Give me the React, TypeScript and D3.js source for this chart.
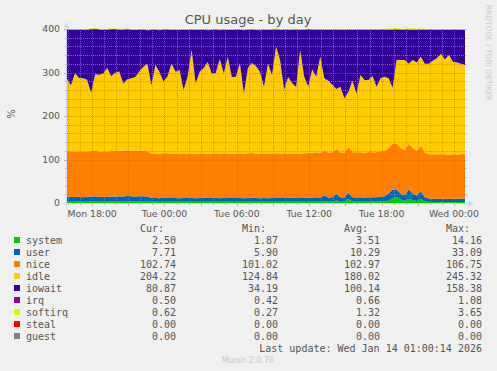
import React from "react";
import * as d3 from "d3";

const W = 497;
const H = 371;

// ---- series (20-minute samples, Mon 15:55 -> Wed 00:55) ----
const system = [
  3.1, 2.9, 3.0, 3.2, 2.8, 3.0, 3.3, 3.4, 3.1, 2.9, 3.0, 3.2, 2.9,
  3.3, 3.1, 3.4, 3.2, 3.0, 3.3, 3.1, 3.2,
  2.9, 2.7, 2.8, 3.0, 2.6, 2.8, 2.9, 2.7, 2.8, 3.1, 2.7, 2.8, 2.6, 2.9, 2.8, 2.7, 3.0, 2.8, 2.9, 2.6,
  2.8, 2.7, 2.9, 2.8, 3.0, 2.7, 2.8, 2.6, 2.9, 2.8, 2.7, 3.0, 2.8, 2.9, 2.7, 2.8, 2.6, 2.9, 2.8, 3.0,
  3.0, 3.1, 2.9, 4.5, 3.0, 3.2, 5.5, 3.1, 2.9, 9.0, 3.2, 3.0, 3.1, 2.9, 3.0, 3.3, 3.0, 3.4,
  3.5, 6.0, 11.0, 14.16, 8.0, 5.0, 9.0, 7.0, 4.5, 9.0, 3.5,
  2.3, 2.1, 2.4, 2.0, 2.2, 1.87, 2.3, 2.1, 2.4, 2.5,
];
const user = [
  11.2, 10.8, 11.0, 11.4, 10.6, 11.3, 11.7, 12.0, 11.5, 10.9, 11.0, 11.6, 11.8,
  12.4, 12.0, 12.6, 12.3, 12.1, 12.5, 12.2, 11.8,
  8.6, 8.9, 8.4, 8.8, 9.1, 8.5, 8.7, 8.3, 8.9, 8.6, 8.8, 8.4, 8.7, 9.0, 8.5, 8.6, 8.8, 8.3, 8.7, 8.9,
  8.5, 8.6, 8.8, 8.4, 8.7, 9.2, 8.6, 8.5, 8.8, 8.4, 8.9, 8.7, 8.6, 8.5, 8.8, 9.0, 8.7, 8.4, 8.9, 9.3,
  9.8, 10.1, 9.6, 12.5, 9.9, 10.2, 15.0, 10.0, 9.7, 16.0, 10.3, 9.9, 10.1, 9.8, 10.4, 10.0, 10.2, 11.5,
  12.0, 16.0, 20.0, 16.0, 14.0, 12.0, 22.0, 15.0, 12.0, 18.0, 10.0,
  7.8, 7.5, 7.9, 7.4, 7.7, 7.3, 7.6, 7.5, 7.8, 7.71,
];
const nice = [
  103.8, 104.2, 104.4, 103.6, 104.1, 103.9, 104.3, 104.6, 104.0, 103.7, 104.3, 104.5, 104.8,
  104.6, 104.9, 105.2, 104.4, 104.7, 104.3, 104.8, 104.1,
  102.3, 102.7, 102.1, 102.6, 102.9, 102.4, 102.2, 102.8, 102.5, 102.0, 102.6, 102.3, 102.7, 102.4, 102.1, 102.5, 102.8, 102.2, 102.6, 102.4,
  102.3, 102.7, 102.5, 102.1, 102.6, 102.9, 102.4, 102.2, 102.7, 102.5, 102.3, 102.6, 102.4, 102.8, 102.2, 102.5, 102.7, 102.3, 102.6, 102.8,
  103.2, 103.5, 103.0, 103.6, 103.3, 103.1, 104.0, 103.4, 103.2, 104.2, 103.0, 103.5, 103.3, 103.1, 103.6, 103.4, 103.2, 103.8,
  104.0, 104.5, 105.5, 106.75, 104.8, 103.9, 105.0, 104.2, 103.6, 104.6, 103.3,
  101.9, 102.3, 101.7, 102.6, 102.1, 101.8, 102.4, 102.0, 101.6, 102.74,
];
const idle = [
  167, 153, 180, 169, 169, 165, 134, 176, 176, 180, 192, 172, 180,
  182, 155, 163, 167, 170, 182, 193, 201,
  157, 203, 188, 165, 176, 207, 188, 192, 146, 176, 238, 161, 188, 196, 211, 184, 184, 218, 184, 222,
  176, 176, 207, 138, 196, 207, 201, 188, 153, 207, 180, 245.32, 215, 146, 176, 161, 153, 238, 176, 153,
  191, 173.3, 220.5, 166.4, 164.8, 155.5, 137.5, 150.5, 124.84, 125.8, 164.5, 135.6, 177.5, 167.2, 166, 175.3, 150.6, 168.3,
  170.5, 160.5, 128.5, 192.25, 202.2, 208.1, 184, 202.8, 202.9, 204.4, 203.2,
  208, 215.1, 221, 231, 218, 229, 212.7, 211.4, 208.2, 204.22,
];
const iowait = [
  113, 127, 100, 111, 111, 115, 146, 104, 104, 100,
  88, 108, 100, 96, 123, 115, 111, 108, 96, 85,
  77, 127, 81, 96, 119, 108, 77, 96, 92, 138,
  108, 46, 123, 96, 88, 73, 100, 100, 66, 100,
  62, 108, 108, 77, 146, 88, 77, 83, 96, 131,
  77, 104, 39, 69, 138, 108, 123, 131, 46, 108,
  131, 91, 108, 62, 111, 117, 126, 136, 131, 157,
  143, 117, 146, 104, 115, 115, 106, 131, 111, 108,
  111, 133, 69, 69, 69, 78, 69, 75, 62, 78,
  78, 71, 65, 55, 68, 58, 73, 75, 78, 80.87,
];
const irq = [
  0.62, 0.68, 0.71, 0.64, 0.59, 0.66, 0.73, 0.69, 0.61, 0.65,
  0.70, 0.67, 0.63, 0.72, 0.68, 0.60, 0.66, 0.74, 0.69, 0.64,
  0.61, 0.67, 0.70, 0.65, 0.58, 0.63, 0.69, 0.72, 0.66, 0.62,
  0.68, 0.75, 0.64, 0.60, 0.67, 0.71, 0.63, 0.66, 0.70, 0.65,
  0.62, 0.68, 0.64, 0.69, 0.73, 0.61, 0.66, 0.70, 0.63, 0.67,
  0.65, 0.71, 0.78, 0.64, 0.60, 0.66, 0.69, 0.62, 0.74, 0.67,
  0.63, 0.68, 0.65, 0.72, 0.70, 0.64, 0.61, 0.76, 0.66, 0.69,
  0.82, 0.65, 0.63, 0.68, 0.66, 0.70, 0.64, 0.67, 0.72, 0.75,
  0.88, 0.96, 1.08, 0.85, 0.78, 1.02, 0.90, 0.80, 0.94, 0.71,
  0.58, 0.55, 0.52, 0.49, 0.54, 0.47, 0.51, 0.45, 0.42, 0.50,
];
const softirq = [
  1.25, 1.31, 1.28, 1.36, 1.22, 1.30, 1.41, 1.27, 1.33, 1.24,
  1.29, 1.35, 1.26, 1.32, 1.38, 1.23, 1.30, 1.27, 1.34, 1.29,
  1.21, 1.28, 1.33, 1.25, 1.31, 1.36, 1.24, 1.30, 1.27, 1.35,
  1.29, 1.44, 1.26, 1.22, 1.31, 1.28, 1.34, 1.25, 1.30, 1.27,
  1.23, 1.32, 1.28, 1.35, 1.26, 1.30, 1.24, 1.33, 1.29, 1.27,
  1.31, 1.25, 1.48, 1.30, 1.22, 1.28, 1.34, 1.26, 1.42, 1.29,
  1.27, 1.33, 1.25, 1.38, 1.30, 1.26, 1.32, 1.55, 1.28, 1.31,
  1.85, 1.27, 1.24, 1.30, 1.28, 1.33, 1.26, 1.35, 1.52, 1.68,
  2.10, 2.95, 3.65, 2.40, 1.90, 3.30, 2.60, 1.95, 2.85, 1.60,
  0.85, 0.72, 0.64, 0.55, 0.61, 0.48, 0.52, 0.39, 0.27, 0.62,
];

// ---- legend ----
const seriesNames = ["system", "user", "nice", "idle", "iowait", "irq", "softirq", "steal", "guest"];
const seriesColors = ["#00CC00", "#0066B3", "#FF8000", "#FFCC00", "#330099", "#990099", "#CCFF00", "#FF0000", "#808080"];
const legendCur = [2.5, 7.71, 102.74, 204.22, 80.87, 0.5, 0.62, 0, 0];
const legendMin = [1.87, 5.9, 101.02, 124.84, 34.19, 0.42, 0.27, 0, 0];
const legendAvg = [3.51, 10.29, 102.97, 180.02, 100.14, 0.66, 1.32, 0, 0];
const legendMax = [14.16, 33.09, 106.75, 245.32, 158.38, 1.08, 3.65, 0, 0];
const legendHeaders = ["Cur:", "Min:", "Avg:", "Max:"];
const yTicks = [0, 100, 200, 300, 400];
const titleText = "CPU usage - by day";
const lastUpdate = "Last update: Wed Jan 14 01:00:14 2026";

const t0 = new Date(2026, 0, 12, 15, 55);
const stepMin = 20;

const PL = 67, PR = 465, PT = 29, PB = 203;

export default function App() {
  const n = system.length;
  const times = system.map((_, i) => new Date(t0.getTime() + i * stepMin * 60000));
  const tEnd = times[n - 1];
  const x = d3.scaleTime().domain([t0, tEnd]).range([PL, PR]);
  const y = d3.scaleLinear().domain([0, 400]).range([PB, PT]);

  const keys = ["system", "user", "nice", "idle", "iowait", "irq", "softirq"];
  const src: Record<string, number[]> = { system, user, nice, idle, iowait, irq, softirq };
  const rows = times.map((t, i) => {
    const r: any = { t };
    keys.forEach((k) => (r[k] = src[k][i]));
    return r;
  });
  const stacked = d3.stack<any>().keys(keys)(rows);
  const area = d3
    .area<any>()
    .x((d) => x(d.data.t))
    .y0((d) => y(d[0]))
    .y1((d) => y(d[1]));

  const hours = d3.timeHour.every(1)!.range(t0, new Date(tEnd.getTime() + 1));
  const hGrid = d3.range(20, 401, 20);

  const minorCol = "rgba(143,143,143,0.75)";
  const majorCol = "rgba(222,80,80,0.6)";
  const axisCol = "#CFD6F8";
  const fontCol = "#555555";
  const sans = "DejaVu Sans, sans-serif";
  const mono = "DejaVu Sans Mono, monospace";

  const valRight = [176, 278, 380, 482];
  const headRight = [164, 266, 368, 470];
  const rowY = (k: number) => 228 + 12 * k + 3.6;

  return (
    <svg width={W} height={H} style={{ position: "absolute", left: 0, top: 0 }} xmlns="http://www.w3.org/2000/svg">
      <rect x={0} y={0} width={W} height={H} fill="#F0F0F0" />
      <defs>
        <clipPath id="plotclip">
          <rect x={PL} y={PT - 1} width={PR - PL + 1} height={PB - PT + 1} />
        </clipPath>
      </defs>
      <rect x={PL} y={PT} width={PR - PL + 1} height={PB - PT} fill="#FFFFFF" />
      <g clipPath="url(#plotclip)">
        {stacked.map((s, i) => (
          <path key={s.key} d={area(s as any) || ""} fill={seriesColors[i]} />
        ))}
      </g>
      {/* grid */}
      <g shapeRendering="crispEdges">
        {hGrid.map((v) => (
          <line
            key={"h" + v}
            x1={PL}
            x2={PR + 1}
            y1={Math.round(y(v)) + 0.5}
            y2={Math.round(y(v)) + 0.5}
            stroke={v % 100 === 0 ? majorCol : minorCol}
            strokeDasharray="1,1"
          />
        ))}
        {hours.map((h) => {
          const xx = Math.round(x(h)) + 0.5;
          const major = h.getHours() % 3 === 0;
          return (
            <g key={"v" + h.getTime()}>
              <line x1={xx} x2={xx} y1={PT} y2={PB} stroke={major ? majorCol : minorCol} strokeDasharray="1,1" />
              <line x1={xx} x2={xx} y1={PB} y2={PB + (major ? 3 : 2)} stroke={major ? majorCol : minorCol} />
            </g>
          );
        })}
        {hGrid.map((v) => (
          <line
            key={"lt" + v}
            x1={PL - (v % 100 === 0 ? 3 : 2)}
            x2={PL}
            y1={Math.round(y(v)) + 0.5}
            y2={Math.round(y(v)) + 0.5}
            stroke={v % 100 === 0 ? majorCol : minorCol}
          />
        ))}
        <line x1={PL - 4} x2={PR + 4} y1={PB + 0.5} y2={PB + 0.5} stroke={axisCol} />
        <line x1={PL - 0.5} x2={PL - 0.5} y1={PT - 4} y2={PB + 4} stroke={axisCol} />
      </g>
      <polygon points={`${PL - 3.5},${PT - 1} ${PL + 2.5},${PT - 1} ${PL - 0.5},${PT - 7}`} fill={axisCol} />
      <polygon points={`${PR + 3},${PB - 2.5} ${PR + 3},${PB + 3.5} ${PR + 9},${PB + 0.5}`} fill={axisCol} />

      {/* y labels */}
      {yTicks.map((v) => (
        <text key={"yl" + v} x={60} y={y(v) + 3.4} textAnchor="end" fontFamily={sans} fontSize={9.3} fill={fontCol}>
          {v}
        </text>
      ))}
      {/* x labels */}
      {hours
        .filter((h) => h.getHours() % 6 === 0)
        .map((h) => (
          <text key={"xl" + h.getTime()} x={x(h)} y={217} textAnchor="middle" fontFamily={sans} fontSize={9.3} fill={fontCol}>
            {d3.timeFormat("%a %H:%M")(h)}
          </text>
        ))}

      <text x={248} y={24} textAnchor="middle" fontFamily={sans} fontSize={13} fill={fontCol}>
        {titleText}
      </text>
      <text transform="translate(15,114) rotate(-90)" textAnchor="middle" fontFamily={sans} fontSize={10} fill={fontCol}>
        %
      </text>
      <text
        transform="translate(486,53) rotate(90)"
        textAnchor="middle"
        fontFamily={sans}
        fontSize={7.5}
        fill="#CCCCCC"
      >
        RRDTOOL / TOBI OETIKER
      </text>

      {/* legend */}
      {legendHeaders.map((hd, j) => (
        <text key={hd} x={headRight[j]} y={rowY(0)} textAnchor="end" fontFamily={mono} fontSize={10} fill={fontCol}>
          {hd}
        </text>
      ))}
      {seriesNames.map((name, i) => (
        <g key={name}>
          <rect x={14} y={228 + 12 * (i + 1) - 3} width={6} height={6} fill={seriesColors[i]} />
          <text x={26} y={rowY(i + 1)} fontFamily={mono} fontSize={10} fill={fontCol}>
            {name}
          </text>
          {[legendCur, legendMin, legendAvg, legendMax].map((arr, j) => (
            <text key={j} x={valRight[j]} y={rowY(i + 1)} textAnchor="end" fontFamily={mono} fontSize={10} fill={fontCol}>
              {arr[i].toFixed(2)}
            </text>
          ))}
        </g>
      ))}
      <text x={482} y={rowY(10)} textAnchor="end" fontFamily={mono} fontSize={10} fill={fontCol}>
        {lastUpdate}
      </text>
      <text x={248} y={363} textAnchor="middle" fontFamily={sans} fontSize={8} fill="#C8C8C8">
        Munin 2.0.76
      </text>
    </svg>
  );
}
